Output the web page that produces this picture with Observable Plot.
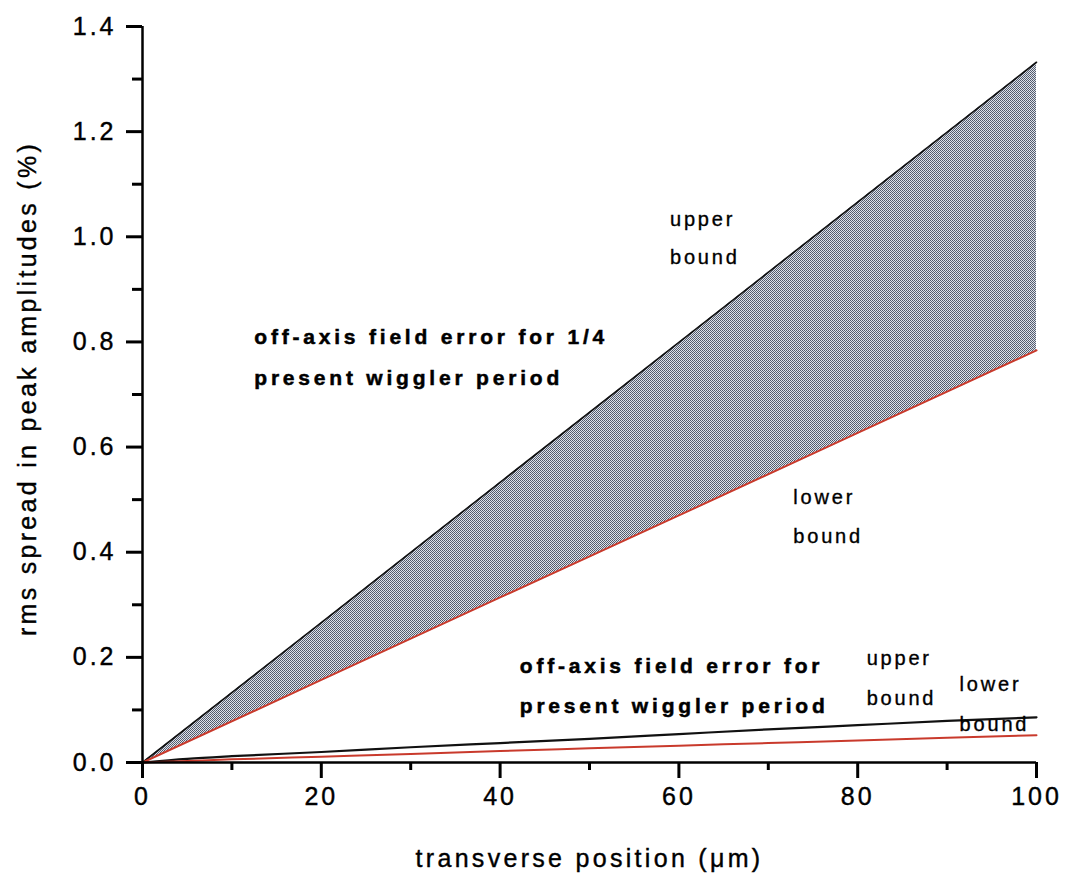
<!DOCTYPE html>
<html>
<head>
<meta charset="utf-8">
<script src="https://cdn.jsdelivr.net/npm/d3@7"></script>
<script src="https://cdn.jsdelivr.net/npm/@observablehq/plot@0.6"></script>
<style>
  body { margin: 0; background: #fff; overflow: hidden; }
  svg { font-family: "Liberation Sans", Arial, sans-serif; }
</style>
</head>
<body>
<div id="chart"></div>
<script>
// Band: off-axis field error for 1/4 present wiggler period
const bandX     = [0, 20, 40, 60, 80, 100];
const bandUpper = [0, 0.266, 0.533, 0.799, 1.066, 1.332];
const bandLower = [0, 0.157, 0.314, 0.470, 0.627, 0.784];

// Curves: off-axis field error for present wiggler period
const curveX     = [0, 5, 10, 20, 30, 40, 50, 60, 70, 80, 90, 100];
const curveUpper = [0, 0.007, 0.012, 0.020, 0.029, 0.037, 0.045, 0.054, 0.063, 0.071, 0.079, 0.086];
const curveLower = [0, 0.003, 0.006, 0.011, 0.016, 0.022, 0.027, 0.032, 0.037, 0.042, 0.047, 0.052];

const xMajor = [0, 20, 40, 60, 80, 100];
const xMinor = [10, 30, 50, 70, 90];
const yMajor = [0, 0.2, 0.4, 0.6, 0.8, 1.0, 1.2, 1.4];
const yMinor = [0.1, 0.3, 0.5, 0.7, 0.9, 1.1, 1.3];

const labels = [
  {x: 59, y: 1.032, text: "upper", bold: false},
  {x: 59, y: 0.96, text: "bound", bold: false},
  {x: 12.5, y: 0.808, text: "off-axis field error for 1/4", bold: true},
  {x: 12.5, y: 0.730, text: "present wiggler period", bold: true},
  {x: 72.8, y: 0.504, text: "lower", bold: false},
  {x: 72.8, y: 0.43, text: "bound", bold: false},
  {x: 42.2, y: 0.184, text: "off-axis field error for", bold: true},
  {x: 42.2, y: 0.107, text: "present wiggler period", bold: true},
  {x: 81, y: 0.197, text: "upper", bold: false},
  {x: 81, y: 0.122, text: "bound", bold: false},
  {x: 91.4, y: 0.148, text: "lower", bold: false},
  {x: 91.4, y: 0.073, text: "bound", bold: false}
];

const band = bandX.map((x, i) => ({x, lo: bandLower[i], hi: bandUpper[i]}));
const curveU = curveX.map((x, i) => ({x, y: curveUpper[i]}));
const curveL = curveX.map((x, i) => ({x, y: curveLower[i]}));
const bandU = bandX.map((x, i) => ({x, y: bandUpper[i]}));
const bandL = bandX.map((x, i) => ({x, y: bandLower[i]}));

const red = "#c93a2c";

const chart = Plot.plot({
  width: 1065,
  height: 884,
  marginLeft: 142,
  marginRight: 29,
  marginTop: 26,
  marginBottom: 122,
  style: {fontFamily: "'Liberation Sans', Arial, sans-serif", background: "#fff"},
  x: {domain: [0, 100]},
  y: {domain: [0, 1.4]},
  marks: [
    Plot.areaY(band, {x: "x", y1: "lo", y2: "hi", fill: "url(#halftone)"}),
    Plot.line(bandU, {x: "x", y: "y", stroke: "#111", strokeWidth: 1.6}),
    Plot.line(bandL, {x: "x", y: "y", stroke: red, strokeWidth: 2}),
    Plot.line(curveU, {x: "x", y: "y", stroke: "#111", strokeWidth: 2.2, curve: "monotone-x"}),
    Plot.line(curveL, {x: "x", y: "y", stroke: red, strokeWidth: 2, curve: "monotone-x"}),
    Plot.axisX(xMinor, {tickSize: 8, strokeWidth: 3, stroke: "#000", strokeOpacity: 1, text: null, label: null}),
    Plot.axisX(xMajor, {tickSize: 16, strokeWidth: 3, stroke: "#000", strokeOpacity: 1, tickPadding: 9, fontSize: 25, fill: "#000",
      label: "transverse position (\u03bcm)", labelAnchor: "center", labelArrow: "none", labelOffset: 104}),
    Plot.axisY(yMinor, {tickSize: 10, strokeWidth: 3, stroke: "#000", strokeOpacity: 1, text: null, label: null}),
    Plot.axisY(yMajor, {tickSize: 16, strokeWidth: 3, stroke: "#000", strokeOpacity: 1, tickPadding: 10, fontSize: 25, fill: "#000",
      tickFormat: d => d.toFixed(1),
      label: "rms spread in peak amplitudes (%)", labelAnchor: "center", labelArrow: "none", labelOffset: 124}),
    Plot.ruleY([0], {stroke: "#000", strokeWidth: 2.5}),
    Plot.ruleX([0], {stroke: "#000", strokeWidth: 2.5}),
    Plot.text(labels.filter(d => !d.bold), {x: "x", y: "y", text: "text", textAnchor: "start", fontSize: 20,
      fill: "#000"}),
    Plot.text(labels.filter(d => d.bold), {x: "x", y: "y", text: "text", textAnchor: "start", fontSize: 21,
      fontWeight: "bold", fill: "#000"})
  ]
});

const svg = d3.select(chart);
const defs = svg.insert("defs", ":first-child");
const pat = defs.append("pattern").attr("id", "halftone").attr("patternUnits", "userSpaceOnUse")
  .attr("width", 2).attr("height", 2);
pat.append("rect").attr("width", 2).attr("height", 2).attr("fill", "#dde1ea");
pat.append("rect").attr("width", 1).attr("height", 1).attr("fill", "#4f5768");
pat.append("rect").attr("x", 1).attr("y", 1).attr("width", 1).attr("height", 1).attr("fill", "#5a6272");

// Axis titles and tick labels: wide tracking like the original
svg.selectAll("[aria-label='y-axis label'] text, [aria-label='x-axis label'] text")
  .attr("font-size", 25).style("letter-spacing", "3.3px")
  .attr("stroke", "#000").attr("stroke-width", 0.4);
svg.selectAll("[aria-label='y-axis label'] text").each(function() {
  const t = d3.select(this).attr("transform");
  const m = /translate\(([-\d.]+),([-\d.]+)\)(.*)/.exec(t || "");
  if (m) d3.select(this).attr("transform", `translate(${m[1]},${+m[2] - 6})${m[3]}`);
});
svg.selectAll("[aria-label='x-axis tick label'] text, [aria-label='y-axis tick label'] text")
  .style("letter-spacing", "3px").attr("stroke", "#000").attr("stroke-width", 0.4);
// Annotations
svg.selectAll("[aria-label='text']").each(function() {
  const g = d3.select(this);
  const bold = g.attr("font-weight") === "bold";
  g.selectAll("text").style("letter-spacing", bold ? "3.8px" : "2.8px")
    .attr("stroke", "#000").attr("stroke-width", bold ? 0.5 : 0.35);
});

document.getElementById("chart").appendChild(chart);
</script>
</body>
</html>
